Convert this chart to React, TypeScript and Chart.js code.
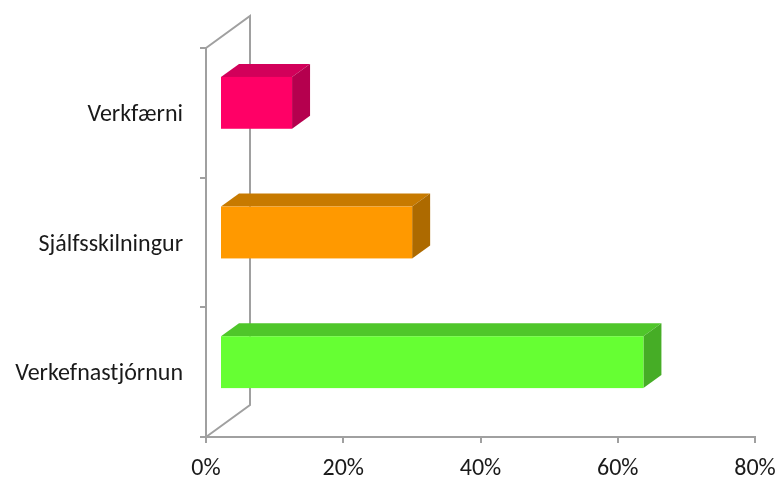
import React, { useEffect, useRef } from "react";
import { Chart, registerables } from "chart.js";

Chart.register(...registerables);

const categories = ["Verkfærni", "Sjálfsskilningur", "Verkefnastjórnun"];
const values = [0.105, 0.28, 0.617];
const xTicks = [0, 0.2, 0.4, 0.6, 0.8];
const frontColors = ["#ff0066", "#ff9900", "#66ff33"];
const topColors = ["#d2005a", "#c77a00", "#4fc62a"];
const sideColors = ["#b5004e", "#ad6a00", "#46ad26"];

const FONT = "Carlito, Lato, 'Open Sans', sans-serif";
const AXIS = "#a0a0a0";
// depth geometry (styling)
const WALL_DX = 44;
const WALL_DY = -32;
const FRONT_DX = 14;
const FRONT_DY = -10;
const BAR_DX = 18;
const BAR_DY = -13;

const threeD = {
  id: "threeD",
  beforeDatasetsDraw(chart: any) {
    const { ctx, chartArea } = chart;
    const l = chartArea.left;
    const t = chartArea.top;
    const b = chartArea.bottom;
    ctx.save();
    ctx.strokeStyle = AXIS;
    ctx.lineWidth = 2;
    ctx.beginPath();
    ctx.moveTo(l, t);
    ctx.lineTo(l + WALL_DX, t + WALL_DY);
    ctx.lineTo(l + WALL_DX, b + WALL_DY);
    ctx.lineTo(l, b);
    ctx.stroke();
    ctx.restore();
  },
  afterDatasetsDraw(chart: any) {
    const { ctx } = chart;
    const meta = chart.getDatasetMeta(0);
    ctx.save();
    meta.data.forEach((el: any, i: number) => {
      const h = el.height;
      const left = el.base + FRONT_DX;
      const right = el.x + FRONT_DX;
      const top = el.y - h / 2 + FRONT_DY;
      const bottom = el.y + h / 2 + FRONT_DY;
      // top face
      ctx.fillStyle = topColors[i];
      ctx.beginPath();
      ctx.moveTo(left, top);
      ctx.lineTo(left + BAR_DX, top + BAR_DY);
      ctx.lineTo(right + BAR_DX, top + BAR_DY);
      ctx.lineTo(right, top);
      ctx.closePath();
      ctx.fill();
      // side face
      ctx.fillStyle = sideColors[i];
      ctx.beginPath();
      ctx.moveTo(right, top);
      ctx.lineTo(right + BAR_DX, top + BAR_DY);
      ctx.lineTo(right + BAR_DX, bottom + BAR_DY);
      ctx.lineTo(right, bottom);
      ctx.closePath();
      ctx.fill();
      // front face
      ctx.fillStyle = frontColors[i];
      ctx.fillRect(left, top, right - left, bottom - top);
    });
    ctx.restore();
  },
};

export default function App() {
  const ref = useRef<HTMLCanvasElement>(null);
  useEffect(() => {
    document.body.style.margin = "0";
    const chart = new Chart(ref.current!, {
      type: "bar",
      data: {
        labels: categories,
        datasets: [
          {
            data: values,
            backgroundColor: "rgba(0,0,0,0)",
            borderWidth: 0,
            barPercentage: 0.4,
            categoryPercentage: 1,
          },
        ],
      },
      options: {
        indexAxis: "y",
        animation: false,
        responsive: false,
        layout: { padding: { top: 48, right: 25, left: 0, bottom: 0 } },
        plugins: { legend: { display: false }, tooltip: { enabled: false } },
        scales: {
          x: {
            min: 0,
            max: 0.8,
            afterBuildTicks: (scale: any) => {
              scale.ticks = xTicks.map((v) => ({ value: v }));
            },
            afterFit: (scale: any) => {
              scale.height = 41;
              scale.paddingLeft = 0;
              scale.paddingRight = 0;
            },
            ticks: {
              callback: (v: any) => Math.round(Number(v) * 100) + "%",
              color: "#1a1a1a",
              font: { family: FONT, size: 24 },
              padding: 12,
              maxRotation: 0,
              autoSkip: false,
            },
            grid: {
              drawOnChartArea: false,
              drawTicks: true,
              tickLength: 6,
              color: AXIS,
              lineWidth: 2,
            },
            border: { color: AXIS, width: 2 },
          },
          y: {
            afterFit: (scale: any) => {
              scale.width = 206;
              scale.paddingTop = 0;
              scale.paddingBottom = 0;
            },
            ticks: {
              color: "#1a1a1a",
              font: { family: FONT, size: 24 },
              padding: 17,
              labelOffset: 2,
            },
            grid: {
              offset: true,
              drawOnChartArea: false,
              drawTicks: true,
              tickLength: 6,
              color: AXIS,
              lineWidth: 2,
            },
            border: { color: AXIS, width: 2 },
          },
        },
      },
      plugins: [threeD],
    });
    return () => chart.destroy();
  }, []);
  return <canvas ref={ref} width={780} height={478} style={{ display: "block" }} />;
}
